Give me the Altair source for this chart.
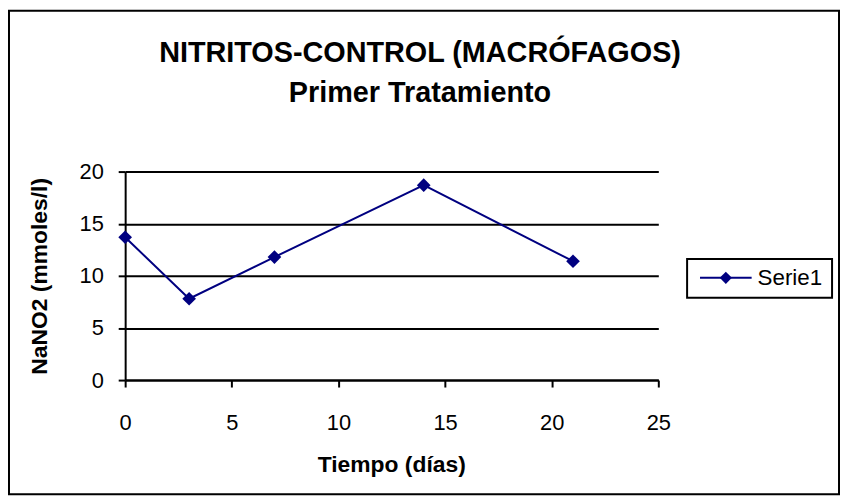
import altair as alt
import pandas as pd

# data
dias = [0, 3, 7, 14, 21]
nitritos = [13.7, 7.8, 11.8, 18.7, 11.4]
serie = ["Serie1"]
x_ticks = [0, 5, 10, 15, 20, 25]
y_ticks = [0, 5, 10, 15, 20]
titulo = ["NITRITOS-CONTROL (MACRÓFAGOS)", "Primer Tratamiento"]

FONT = "Liberation Sans"
NAVY = "#000080"
W, H = 537, 210

df = pd.DataFrame({"dias": dias, "nitritos": nitritos})

x = alt.X("dias:Q", scale=alt.Scale(domain=[0, 25], nice=False, zero=False),
          axis=alt.Axis(values=x_ticks, grid=False, title="Tiempo (días)",
                        titleX=268, titleY=85, titleBaseline="middle",
                        titleFontSize=23, titleFontWeight="bold",
                        labelPadding=26, tickSize=7, labelFlush=False))
y = alt.Y("nitritos:Q", scale=alt.Scale(domain=[0, 20], nice=False),
          axis=alt.Axis(values=y_ticks, grid=True, title="NaNO2 (mmoles/l)",
                        titleX=-86, titleY=105, titleBaseline="middle",
                        titleAlign="center", titleAngle=270,
                        titleFontSize=23, titleFontWeight="bold",
                        labelPadding=15, tickSize=7, labelFlush=False))

base = alt.Chart(df)
line = base.mark_line(color=NAVY, strokeWidth=2).encode(x=x, y=y)
pts = base.mark_point(shape="diamond", filled=True, opacity=1, size=190,
                      color=NAVY).encode(x="dias:Q", y="nitritos:Q")

one = alt.Chart(pd.DataFrame({"k": [0]}))

border = one.mark_rect(fill=None, stroke="black", strokeWidth=2).encode(
    x=alt.value(-117), x2=alt.value(719), y=alt.value(-162), y2=alt.value(325))

t1 = one.mark_text(text=titulo[0], font=FONT, fontSize=29, fontWeight="bold",
                   align="center", baseline="middle", color="black").encode(
    x=alt.value(297), y=alt.value(-119))
t2 = one.mark_text(text=titulo[1], font=FONT, fontSize=29, fontWeight="bold",
                   align="center", baseline="middle", color="black").encode(
    x=alt.value(297), y=alt.value(-79))

leg_box = one.mark_rect(fill="white", stroke="black", strokeWidth=2).encode(
    x=alt.value(566), x2=alt.value(712), y=alt.value(88), y2=alt.value(127))
leg_line = one.mark_rule(color=NAVY, strokeWidth=2).encode(
    x=alt.value(579), x2=alt.value(631), y=alt.value(107))
leg_pt = one.mark_point(shape="diamond", filled=True, opacity=1, size=150,
                        color=NAVY).encode(x=alt.value(605), y=alt.value(107))
leg_txt = one.mark_text(text=serie[0], font=FONT, fontSize=22.5, align="left",
                        baseline="middle", color="black").encode(
    x=alt.value(637), y=alt.value(107))

chart = alt.layer(line, pts, border, t1, t2, leg_box, leg_line, leg_pt, leg_txt).properties(
    width=W, height=H,
    autosize=alt.AutoSizeParams(type="none"),
    padding={"left": 118, "top": 163, "right": 183, "bottom": 116},
    background="white",
).configure_view(stroke=None).configure_axis(
    domainColor="black", domainWidth=2, tickColor="black", tickWidth=2,
    gridColor="black", gridWidth=2, labelFont=FONT, labelFontSize=22,
    labelColor="black", titleFont=FONT, titleColor="black",
)

chart.save("out.html", embed_options={"renderer": "svg", "actions": False})
